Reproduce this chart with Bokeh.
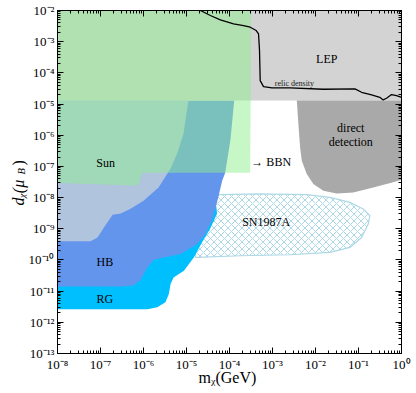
import math
from bokeh.plotting import figure
from bokeh.models import FixedTicker, LogAxis, CustomJSTickFormatter, Label
from bokeh.embed import file_html
from bokeh.resources import INLINE
from bokeh.core.properties import value

# ---------------- data (log10 of m_chi [GeV], log10 of d_chi [mu_B]) ----------------
lep_logm = [-8, 0, 0, -8]
lep_logd = [-2, -2, -4.889, -4.889]

bbn_logm = [-8, -3.495, -3.52, -6.02, -6.06, -6.08, -6.12, -6.2, -8]
bbn_logd = [-2, -2, -7.20, -7.20, -7.30, -7.46, -7.58, -7.61, -7.53]

sun_logm = [-8, -4.955, -5.07, -5.21, -5.37, -5.65, -6.0, -6.30, -6.53, -6.72, -6.92, -7.07, -7.23, -8]
sun_logd = [-4.889, -4.889, -5.95, -6.56, -7.07, -7.68, -8.10, -8.36, -8.51, -8.55, -8.96, -9.28, -9.40, -9.40]

hb_logm = [-8, -3.89, -3.98, -4.10, -4.17, -4.28, -4.41, -4.56, -4.75, -5.14, -5.53, -5.76, -5.91, -6.07, -6.23, -6.53, -8]
hb_logd = [-4.889, -4.889, -6.17, -7.20, -7.46, -8.10, -8.74, -9.17, -9.49, -9.81, -9.92, -9.99, -10.24, -10.64, -10.82, -10.85, -10.85]

rg_logm = [-8, -4.33, -4.29, -4.45, -4.64, -4.83, -5.06, -5.30, -5.37, -5.41, -5.49, -5.68, -5.91, -8]
rg_logd = [-8.0, -8.0, -8.52, -9.00, -9.44, -9.92, -10.35, -10.56, -10.77, -11.09, -11.36, -11.52, -11.58, -11.58]

dd_logm = [-2.435, -2.398, -2.358, -2.319, -2.203, -2.050, -1.818, -1.507, -1.122, -0.658, -0.195, 0, 0]
dd_logd = [-4.889, -5.637, -6.388, -6.815, -7.242, -7.563, -7.778, -7.865, -7.833, -7.673, -7.512, -7.425, -4.889]

sn_logm = [-4.793, -4.174, -3.362, -2.203, -1.662, -1.198, -0.890, -0.735, -0.774, -0.928, -1.199, -1.662, -2.590, -3.751, -4.754, -4.793]
sn_logd = [-7.907, -7.907, -7.884, -7.907, -7.994, -8.154, -8.366, -8.581, -8.848, -9.278, -9.599, -9.759, -9.833, -9.865, -9.920, -9.920]

relic_logm = [-4.677, -4.445, -4.213, -3.905, -3.673, -3.518, -3.379, -3.325, -3.302, -3.286, -3.209, -3.014,
              -2.590, -1.818, -1.083, -0.928, -0.696, -0.504, -0.427, -0.348, -0.232, -0.116, 0.0]
relic_logd = [-2.0, -2.161, -2.299, -2.427, -2.482, -2.536, -2.642, -2.748, -3.284, -4.247, -4.440, -4.481,
              -4.481, -4.526, -4.514, -4.623, -4.706, -4.783, -4.867, -4.815, -4.697, -4.729, -4.783]

label_texts = ["Sun", "HB", "RG", "SN1987A", "\u2192 BBN", "LEP", "direct\ndetection"]
label_logm = [-6.88, -6.90, -6.90, -3.147, -3.03, -1.739, -1.18]
label_logd = [-6.89, -10.08, -11.26, -8.796, -6.87, -3.55, -6.0]

relic_text = "relic density"
relic_text_logm, relic_text_logd = -2.49, -4.33

x_tick_exps = list(range(-8, 1))
y_tick_exps = list(range(-13, -1))

x_title = "m\u1d6a(GeV)"
y_title_main, y_title_sub, y_title_end = "d\u1d6a(\u03bc", "B", ")"

# ---------------- helpers ----------------
def tv(lst):
    return [10.0 ** v for v in lst]

FONT = "Liberation Serif"

W, H = 416, 393
BL, BR, BT, BB = 57, 14, 10, 40

p = figure(width=W, height=H, x_axis_type="log", y_axis_type="log",
           x_range=(1e-8, 1), y_range=(1e-13, 1e-2),
           output_backend="svg", toolbar_location=None,
           min_border_left=BL, min_border_right=BR, min_border_top=BT, min_border_bottom=BB)
p.background_fill_color = "white"
p.border_fill_color = "white"
p.outline_line_color = "black"
p.xgrid.visible = False
p.ygrid.visible = False

# regions
p.patch(tv(sn_logm), tv(sn_logd), fill_color=None, hatch_pattern="diagonal_cross",
        hatch_color="#add8e6", hatch_scale=7, hatch_weight=1,
        line_color="#add8e6", line_width=1.2)
p.patch(tv(rg_logm), tv(rg_logd), fill_color="#00bfff", line_color=None)
p.patch(tv(hb_logm), tv(hb_logd), fill_color="#6495ed", line_color=None)
p.patch(tv(sun_logm), tv(sun_logd), fill_color="#b0c4de", line_color=None)
p.patch(tv(lep_logm), tv(lep_logd), fill_color="#d3d3d3", line_color=None)
p.patch(tv(dd_logm), tv(dd_logd), fill_color="#a9a9a9", line_color=None)
p.patch(tv(bbn_logm), tv(bbn_logd), fill_color="#90ee90", fill_alpha=0.5, line_color=None)
p.line(tv(relic_logm), tv(relic_logd), line_color="black", line_width=1.3)

p.text(x=tv(label_logm), y=tv(label_logd), text=label_texts,
       text_font=value(FONT), text_font_size="12px", text_color="black",
       text_align="center", text_baseline="middle", text_line_height=1.0)
p.text(x=[10 ** relic_text_logm], y=[10 ** relic_text_logd], text=[relic_text],
       text_font=value(FONT), text_font_size="8px", text_color="#222222",
       text_align="center", text_baseline="middle")

# ticks
xt = FixedTicker(ticks=[10.0 ** e for e in x_tick_exps],
                 minor_ticks=[k * 10.0 ** e for e in x_tick_exps[:-1] for k in range(2, 10)])
yt = FixedTicker(ticks=[10.0 ** e for e in y_tick_exps],
                 minor_ticks=[k * 10.0 ** e for e in y_tick_exps[:-1] for k in range(2, 10)])

fmt = CustomJSTickFormatter(code="""
const sup = {'-':'\u207b','0':'\u2070','1':'\u00b9','2':'\u00b2','3':'\u00b3','4':'\u2074',
             '5':'\u2075','6':'\u2076','7':'\u2077','8':'\u2078','9':'\u2079'};
const e = Math.round(Math.log10(tick));
return '10' + String(e).split('').map(c => sup[c]).join('');
""")
blank = CustomJSTickFormatter(code="return ' ';")

def style_axis(ax, labels=True):
    ax.major_tick_in = 6
    ax.major_tick_out = 0
    ax.minor_tick_in = 3
    ax.minor_tick_out = 0
    ax.axis_line_color = "black"
    ax.major_tick_line_color = "black"
    ax.minor_tick_line_color = "black"
    ax.major_label_text_font = FONT
    ax.major_label_text_color = "black"
    if labels:
        ax.formatter = fmt
        ax.major_label_text_font_size = "13px"
        ax.major_label_standoff = 3
    else:
        ax.formatter = blank
        ax.major_label_text_font_size = "2px"
        ax.major_label_standoff = 0

p.xaxis.ticker = xt
p.yaxis.ticker = yt
style_axis(p.xaxis[0])
style_axis(p.yaxis[0])

top = LogAxis(ticker=xt)
style_axis(top, labels=False)
p.add_layout(top, "above")
right = LogAxis(ticker=yt)
style_axis(right, labels=False)
p.add_layout(right, "right")

# ---------------- axis titles (canvas pixel positions, side panels so they are not clipped) ----------------
def title_piece(txt, px, py, size, style, side, angle=0.0):
    p.add_layout(Label(x=px, y=py, text=txt, x_units="canvas", y_units="canvas",
                       text_font=FONT, text_font_size=size, text_font_style=style,
                       text_color="black", text_align="left", text_baseline="alphabetic",
                       angle=angle), side)

A = math.pi / 2
title_piece(x_title, 198, 377, "16px", "normal", "below")
title_piece(y_title_main, 17.5, 205, "16px", "italic", "left", A)
title_piece(y_title_sub, 21.0, 174, "10.5px", "italic", "right", A)
title_piece(y_title_end, 17.5, 165, "16px", "normal", "above", A)

open("out.html", "w").write(file_html(p, INLINE))
